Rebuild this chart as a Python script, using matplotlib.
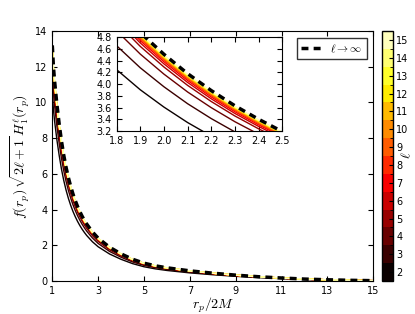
import numpy as np
import matplotlib
matplotlib.use("Agg")
import matplotlib.pyplot as plt
from matplotlib.colors import ListedColormap, BoundaryNorm
from matplotlib.cm import ScalarMappable

plt.rcParams["mathtext.fontset"] = "cm"
plt.rcParams["xtick.direction"] = "in"
plt.rcParams["ytick.direction"] = "in"
plt.rcParams["xtick.top"] = True
plt.rcParams["ytick.right"] = True
plt.rcParams["font.size"] = 7

# radial positions r_p/2M and the l -> infinity curve
r_vals = [1.0, 1.05, 1.1, 1.2, 1.3, 1.4, 1.5, 1.6, 1.7, 1.8, 1.9, 2.0, 2.1, 2.2,
          2.3, 2.4, 2.5, 2.75, 3.0, 3.5, 4.0, 4.5, 5.0, 5.5, 6.0, 7.0, 8.0, 9.0,
          10.0, 11.0, 12.0, 13.0, 14.0, 15.0]
f_inf = [13.2, 12.0, 11.2, 9.9, 8.8, 7.84, 7.04, 6.37, 5.80, 5.31, 4.88, 4.51,
         4.18, 3.89, 3.63, 3.40, 3.19, 2.75, 2.40, 1.89, 1.52, 1.22, 1.00, 0.85,
         0.74, 0.57, 0.44, 0.33, 0.24, 0.17, 0.11, 0.07, 0.04, 0.02]

# multipoles and their level relative to the l -> infinity curve
ells = [2, 3, 4, 5, 6, 7, 8, 9, 10, 11, 12, 13, 14, 15]
ell_ratio = [0.80, 0.877, 0.925, 0.952, 0.964, 0.972, 0.978, 0.982, 0.986,
             0.989, 0.991, 0.993, 0.995, 0.997]

r = np.array(r_vals)
finf = np.array(f_inf)

cmap = ListedColormap(plt.cm.hot(np.linspace(0, 0.93, len(ells))))
norm = BoundaryNorm(np.arange(1.5, 16.5, 1.0), cmap.N)

fig = plt.figure(figsize=(4.15, 3.14), dpi=100)
ax = fig.add_axes([0.126, 0.105, 0.7735, 0.796])
ins = fig.add_axes([0.281, 0.583, 0.399, 0.298])

for a in (ax, ins):
    for l, q in zip(ells, ell_ratio):
        a.plot(r, finf * q, color=cmap(norm(l)), lw=1.0)
    a.plot(r, finf, "k--", lw=2.5, dashes=(2.0, 1.5), label=r"$\ell\to\infty$")

ax.set_xlim(1, 15)
ax.set_ylim(0, 14)
ax.set_xticks(range(1, 16, 2))
ax.set_yticks(range(0, 15, 2))
ax.set_xlabel(r"$r_p/2M$", fontsize=10, labelpad=0)
ax.set_ylabel(r"$f(r_p)\,\sqrt{2\ell+1}\,H_1^\ell(r_p)$", fontsize=10, labelpad=2)
leg = ax.legend(loc="upper right", fontsize=8, fancybox=False, handlelength=1.8,
                borderaxespad=0.6)
leg.get_frame().set_edgecolor("black")

ins.set_xlim(1.8, 2.5)
ins.set_ylim(3.2, 4.8)
ins.set_xticks(np.arange(1.8, 2.51, 0.1))
ins.set_yticks(np.arange(3.2, 4.81, 0.2))

cax = fig.add_axes([0.92, 0.105, 0.028, 0.796])
sm = ScalarMappable(norm=norm, cmap=cmap)
cb = fig.colorbar(sm, cax=cax, ticks=ells)
cb.ax.tick_params(direction="in", length=3, pad=2)
cb.outline.set_linewidth(1.0)
fig.text(0.978, 0.505, r"$\ell$", rotation=90, fontsize=10, ha="center", va="center")

fig.savefig("out.png", dpi=100)
